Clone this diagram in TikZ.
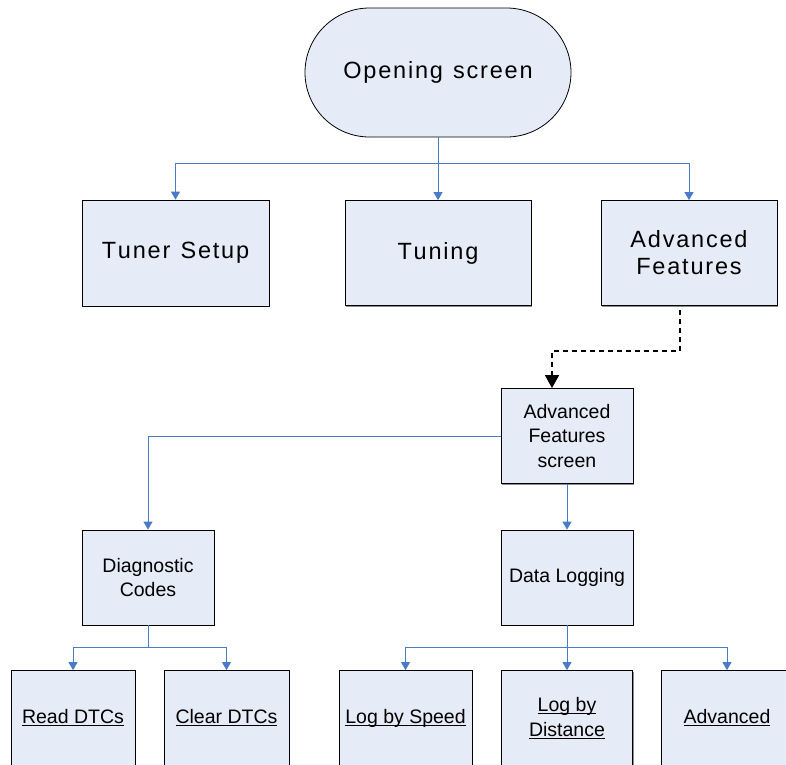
\documentclass[tikz,border=0pt]{standalone}
\usepackage{fontspec}
\setmainfont{Liberation Sans}
\usetikzlibrary{shapes.misc,arrows.meta,shadows}
\definecolor{boxfill}{HTML}{E6ECF7}
\definecolor{linkblue}{HTML}{4A7BC8}
\makeatletter
\newcommand{\spread}[1]{\@tfor\spr@c:=#1\do{\spr@c\kern1.8pt}\kern-1.8pt}
\makeatother
\newcommand{\bigtext}{\fontsize{23.5}{27}\selectfont}
\newcommand{\smalltext}{\fontsize{19.5}{24.5}\selectfont}
\newcommand{\wordul}[1]{\setbox0=\hbox{#1}\rlap{\rule[-2.4pt]{\wd0}{0.9pt}}\box0}
\tikzstyle{screenbox}=[rectangle,draw=black,fill=boxfill,line width=0.8pt,align=center,drop shadow={shadow xshift=1pt,shadow yshift=-1pt,fill=black!45,opacity=1}]
\tikzstyle{startbox}=[rounded rectangle,draw=black,fill=boxfill,line width=0.8pt,font=\bigtext,minimum width=270pt,minimum height=129pt]
\tikzstyle{bigbox}=[screenbox,font=\bigtext]
\tikzstyle{smallbox}=[screenbox,font=\smalltext,minimum width=132pt,minimum height=95pt]
\tikzstyle{wire}=[draw=linkblue,line width=0.8pt]
\tikzstyle{link}=[wire,-{Triangle[width=9pt,length=8pt]}]
\tikzstyle{jump}=[draw=black,line width=1.6pt,dash pattern=on 5pt off 4pt,-{Triangle[width=14pt,length=13pt]}]

\begin{document}
\begin{tikzpicture}[inner sep=2pt]
  \useasboundingbox (0,0) rectangle (786pt,-764pt);
  \node [startbox] (opening) at (438pt,-72.5pt) {\spread{Opening\ screen}};
  \node [bigbox, minimum width=186pt, minimum height=105pt] (tuning) [node distance=180.5pt, below of=opening] {\spread{Tuning}};
  \node [bigbox, minimum width=187pt, minimum height=106pt] (tuner) [node distance=262.5pt, left of=tuning] {\spread{Tuner\ Setup}};
  \node [bigbox, minimum width=176pt, minimum height=105pt] (advanced) [node distance=251pt, right of=tuning] {\spread{Advanced}\\\spread{Features}};
  \draw [wire] (opening.south) -- ++(0,-26pt) coordinate (topbus);
  \draw [link] (topbus) -- (tuning.north);
  \draw [link] (topbus) -| (tuner.north);
  \draw [link] (topbus) -| (advanced.north);

  \node [smallbox] (screen) [node distance=183pt, below of=advanced, xshift=-122pt] {Advanced\\Features\\screen};
  \draw [jump] ([xshift=-9pt,yshift=-4pt]advanced.south) -- ++(0,-41pt) -| ([xshift=-15pt]screen.north);
  \node [smallbox] (datalog) [node distance=141.5pt, below of=screen] {Data Logging};
  \node [smallbox] (diag) [node distance=419pt, left of=datalog] {Diagnostic\\Codes};
  \draw [link] (screen.west) -| (diag.north);
  \draw [link] (screen) -- (datalog);

  % left branch
  \node [smallbox, minimum width=124pt] (read) [node distance=140.5pt, below of=diag, xshift=-75pt] {\wordul{Read DTCs}};
  \node [smallbox, minimum width=125pt] (clear) [node distance=153.5pt, right of=read] {\wordul{Clear DTCs}};
  \draw [wire] (diag.south) -- ++(0,-22pt) coordinate (diagbus);
  \draw [link] (diagbus) -| (read.north);
  \draw [link] (diagbus) -| (clear.north);

  % right branch
  \node [smallbox, minimum width=131pt] (distance) [node distance=140.5pt, below of=datalog] {\wordul{Log by}\\\wordul{Distance}};
  \node [smallbox, minimum width=133pt] (speed) [node distance=161.5pt, left of=distance] {\wordul{Log by Speed}};
  \node [smallbox] (advlog) [node distance=160pt, right of=distance] {\wordul{Advanced}};
  \draw [wire] (datalog.south) -- ++(0,-22pt) coordinate (logbus);
  \draw [link] (logbus) -- (distance.north);
  \draw [link] (logbus) -| (speed.north);
  \draw [link] (logbus) -| (advlog.north);
\end{tikzpicture}
\end{document}
